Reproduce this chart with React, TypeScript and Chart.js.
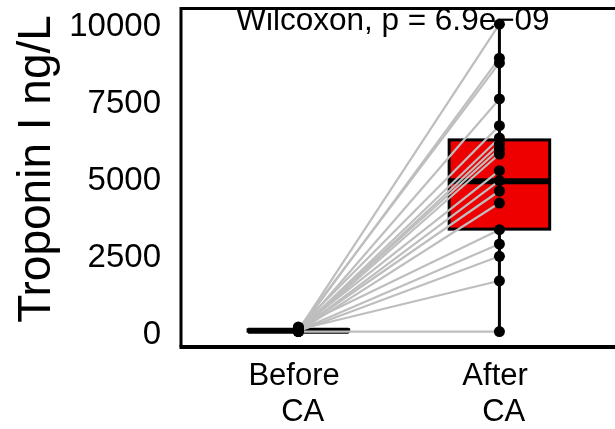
import React, { useEffect, useRef } from 'react';
import { Chart, registerables } from 'chart.js';

Chart.register(...registerables);

// ---- data ----
const categories: string[][] = [["Before ", " CA"], ["After ", " CA"]];
const categoryPositions = [1, 2];
const beforeValues = [40, 15, 80, 10, 120, 30, 5, 60, 20, 90, 25, 45, 8, 150, 35, 12, 70, 0];
const afterValues = [9990, 8885, 8732, 7561, 6693, 6293, 6098, 5935, 5772, 5229, 4904, 4569, 4179, 3311, 2846, 2446, 1652, 0];
const yTickValues = [0, 2500, 5000, 7500, 10000];
// box statistics (Before, After)
const boxQ1 = [12, 3330];
const boxMedian = [30, 4890];
const boxQ3 = [62, 6230];
const whiskerLow = [0, 0];
const whiskerHigh = [150, 9990];
const yTitle = 'Troponin I ng/L';
const testLabel = 'Wilcoxon, p = 6.9e\u221209';
const testLabelX = 1.47;
const testLabelY = 9800;

const FONT = '"Liberation Sans", Arial, sans-serif';

const boxPlugin = {
  id: 'boxes',
  beforeDatasetsDraw(chart: any) {
    const { ctx, scales } = chart;
    const xs = scales.x, ys = scales.y;
    ctx.save();
    categoryPositions.forEach((pos, i) => {
      const cx = xs.getPixelForValue(pos);
      const hw = xs.getPixelForValue(pos + 0.25) - cx;
      ctx.strokeStyle = '#000';
      ctx.lineWidth = 3;
      ctx.beginPath();
      ctx.moveTo(cx, ys.getPixelForValue(whiskerLow[i]));
      ctx.lineTo(cx, ys.getPixelForValue(whiskerHigh[i]));
      ctx.stroke();
      const yTop = ys.getPixelForValue(boxQ3[i]);
      const yBot = ys.getPixelForValue(boxQ1[i]);
      ctx.fillStyle = '#EE0000';
      ctx.fillRect(cx - hw, yTop, 2 * hw, yBot - yTop);
      ctx.lineWidth = 3;
      ctx.strokeRect(cx - hw, yTop, 2 * hw, yBot - yTop);
      ctx.lineWidth = 6;
      ctx.beginPath();
      const ym = ys.getPixelForValue(boxMedian[i]);
      ctx.moveTo(cx - hw, ym);
      ctx.lineTo(cx + hw, ym);
      ctx.stroke();
    });
    ctx.fillStyle = '#000';
    ctx.font = `31.5px ${FONT}`;
    ctx.textAlign = 'center';
    ctx.textBaseline = 'alphabetic';
    ctx.fillText(testLabel, xs.getPixelForValue(testLabelX), ys.getPixelForValue(testLabelY));
    ctx.restore();
  },
  afterDraw(chart: any) {
    const { ctx, chartArea } = chart;
    const { left, right, top, bottom } = chartArea;
    ctx.save();
    ctx.strokeStyle = '#000';
    ctx.lineWidth = 3;
    ctx.beginPath();
    ctx.moveTo(left - 1.5, top);
    ctx.lineTo(right, top);
    ctx.moveTo(left, top);
    ctx.lineTo(left, bottom);
    ctx.stroke();
    ctx.lineWidth = 4;
    ctx.beginPath();
    ctx.moveTo(left - 1.5, bottom);
    ctx.lineTo(right, bottom);
    ctx.stroke();
    ctx.fillStyle = '#000';
    ctx.font = `46px ${FONT}`;
    ctx.textAlign = 'center';
    ctx.textBaseline = 'alphabetic';
    ctx.translate(50, 169);
    ctx.rotate(-Math.PI / 2);
    ctx.fillText(yTitle, 0, 0);
    ctx.restore();
  },
};

export default function App() {
  const ref = useRef<HTMLCanvasElement | null>(null);
  useEffect(() => {
    if (!ref.current) return;
    const pairDatasets = beforeValues.map((b, i) => ({
      data: [
        { x: categoryPositions[0], y: b },
        { x: categoryPositions[1], y: afterValues[i] },
      ],
      showLine: true,
      borderColor: '#bebebe',
      borderWidth: 2.2,
      pointRadius: 0,
      order: 2,
    }));
    const chart = new Chart(ref.current, {
      type: 'scatter',
      data: {
        datasets: [
          {
            data: beforeValues.map((v) => ({ x: categoryPositions[0], y: v })),
            backgroundColor: '#000',
            borderColor: '#000',
            pointRadius: 5.5,
            borderWidth: 0,
            order: 1,
          },
          {
            data: afterValues.map((v) => ({ x: categoryPositions[1], y: v })),
            backgroundColor: '#000',
            borderColor: '#000',
            pointRadius: 5.5,
            borderWidth: 0,
            order: 1,
          },
          ...pairDatasets,
        ] as any,
      },
      options: {
        animation: false,
        responsive: false,
        devicePixelRatio: 1,
        layout: { autoPadding: false, padding: { top: 8.5, left: 0, right: 0, bottom: 0 } },
        plugins: { legend: { display: false }, tooltip: { enabled: false } },
        scales: {
          x: {
            type: 'linear',
            min: 0.416,
            max: 2.575,
            grid: { display: false, drawTicks: false, tickLength: 0 },
            border: { display: false },
            afterBuildTicks: (s: any) => {
              s.ticks = categoryPositions.map((v) => ({ value: v }));
            },
            afterFit: (s: any) => {
              s.height = 82;
              s.paddingLeft = 0;
              s.paddingRight = 0;
              s.paddingTop = 0;
              s.paddingBottom = 0;
            },
            ticks: {
              autoSkip: false,
              maxRotation: 0,
              padding: 12,
              color: '#000',
              font: { family: FONT, size: 31, lineHeight: 1.15 },
              callback: (v: any) => categories[categoryPositions.indexOf(v)] ?? '',
            },
          },
          y: {
            type: 'linear',
            min: -500,
            max: 10500,
            grid: { display: false, drawTicks: false, tickLength: 0 },
            border: { display: false },
            afterBuildTicks: (s: any) => {
              s.ticks = yTickValues.map((v) => ({ value: v }));
            },
            afterFit: (s: any) => {
              s.width = 181;
              s.paddingLeft = 0;
              s.paddingRight = 0;
              s.paddingTop = 0;
              s.paddingBottom = 0;
            },
            ticks: {
              padding: 20,
              labelOffset: 3,
              color: '#000',
              font: { family: FONT, size: 33 },
              callback: (v: any) => String(v),
            },
          },
        },
      },
      plugins: [boxPlugin],
    });
    return () => chart.destroy();
  }, []);
  return (
    <div style={{ position: 'absolute', left: 0, top: 0, width: 615, height: 429, background: '#fff' }}>
      <canvas ref={ref} width={615} height={429} />
    </div>
  );
}
